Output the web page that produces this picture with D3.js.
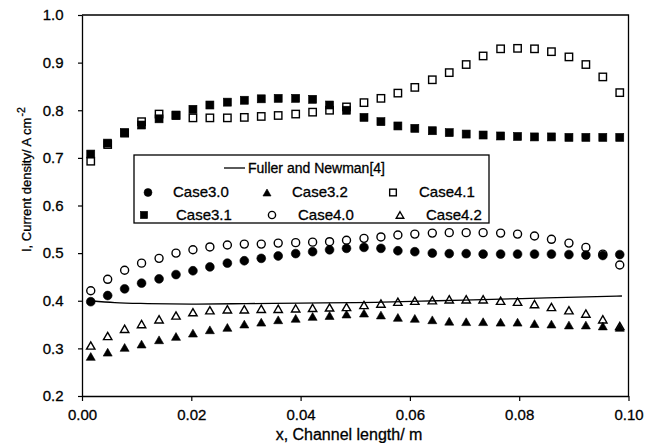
<!DOCTYPE html>
<html><head><meta charset="utf-8">
<script src="https://cdn.jsdelivr.net/npm/d3@7"></script>
<style>
html,body{margin:0;padding:0;background:#fff;}
svg{display:block;font-family:"Liberation Sans",Arial,Helvetica,sans-serif;}
svg text{stroke:#000;stroke-width:0.3px;}
</style>
</head><body>
<svg id="chart" width="645" height="443"></svg>
<script>
// ---- data ----
const xValues = [0.0016,0.0047,0.0078,0.0109,0.0141,0.0172,0.0203,0.0234,0.0266,0.0297,0.0328,0.0359,0.0391,0.0422,0.0453,0.0484,
                 0.0516,0.0547,0.0578,0.0609,0.0641,0.0672,0.0703,0.0734,0.0766,0.0797,0.0828,0.0859,0.0891,0.0922,0.0953,0.0984];
const case30 = [0.398,0.411,0.425,0.437,0.446,0.455,0.463,0.471,0.479,0.484,0.489,0.494,0.499,0.503,0.507,0.510,
                0.512,0.510,0.505,0.503,0.500,0.499,0.499,0.498,0.498,0.498,0.498,0.498,0.497,0.496,0.495,0.497];
const case31 = [0.708,0.731,0.753,0.769,0.782,0.790,0.802,0.811,0.817,0.821,0.824,0.825,0.825,0.823,0.811,0.800,
                0.785,0.776,0.767,0.762,0.757,0.753,0.750,0.748,0.746,0.745,0.744,0.744,0.743,0.743,0.743,0.743];
const case32 = [0.283,0.292,0.302,0.309,0.318,0.325,0.332,0.339,0.344,0.351,0.355,0.360,0.363,0.367,0.369,0.372,
                0.374,0.370,0.365,0.363,0.360,0.357,0.356,0.356,0.355,0.355,0.352,0.351,0.349,0.349,0.347,0.344];
const case40 = [0.421,0.445,0.464,0.479,0.489,0.500,0.507,0.513,0.517,0.519,0.519,0.521,0.522,0.523,0.524,0.527,
                0.531,0.534,0.538,0.540,0.542,0.543,0.543,0.543,0.542,0.540,0.536,0.529,0.521,0.512,0.498,0.475];
const case41 = [0.693,0.728,0.752,0.776,0.792,0.789,0.784,0.784,0.784,0.785,0.787,0.789,0.792,0.796,0.800,0.807,
                0.816,0.825,0.836,0.848,0.864,0.879,0.896,0.914,0.929,0.930,0.929,0.923,0.912,0.896,0.870,0.837];
const case42 = [0.306,0.326,0.341,0.351,0.361,0.369,0.376,0.380,0.382,0.382,0.383,0.383,0.384,0.385,0.386,0.387,
                0.391,0.394,0.398,0.400,0.401,0.403,0.403,0.403,0.400,0.398,0.393,0.387,0.380,0.373,0.361,0.347];
const fullerX = [0.0016,0.006,0.012,0.020,0.030,0.040,0.050,0.055,0.065,0.075,0.085,0.0988];
const fullerY = [0.400,0.396,0.394,0.393,0.394,0.395,0.396,0.397,0.400,0.403,0.406,0.410];
const xTicks = [0.00,0.02,0.04,0.06,0.08,0.10];
const yTicks = [0.2,0.3,0.4,0.5,0.6,0.7,0.8,0.9,1.0];
const xTitle = "x, Channel length/ m";
const yTitle = "I, Current density/ A cm";
const yTitleSup = "-2";
const lineLabel = "Fuller and Newman[4]";

// ---- scales ----
const svg = d3.select("#chart");
const L = 82, R = 628.5, T = 15, B = 396;
const x = d3.scaleLinear().domain([0, 0.1]).range([L, R]);
const y = d3.scaleLinear().domain([0.2, 1.0]).range([B, T]);

// ---- axes ----
const xAxis = svg.append("g").attr("transform", `translate(0,${B})`)
  .call(d3.axisBottom(x).tickValues(xTicks).tickFormat(d3.format(".2f"))
        .tickSizeInner(5).tickSizeOuter(0).tickPadding(8));
const yAxis = svg.append("g").attr("transform", `translate(${L},0)`)
  .call(d3.axisLeft(y).tickValues(yTicks).tickFormat(d3.format(".1f"))
        .tickSizeInner(4).tickSizeOuter(0).tickPadding(14.5));
[xAxis, yAxis].forEach(g => {
  g.select(".domain").attr("stroke", "#000").attr("stroke-width", 1.3);
  g.selectAll(".tick line").attr("stroke", "#000").attr("stroke-width", 1.2);
  g.selectAll(".tick text").attr("fill", "#000").style("font-size", "15px")
    .style("font-family", '"Liberation Sans",Arial,sans-serif');
});
// frame top & right
svg.append("path").attr("d", `M${L},${T}H${R}V${B}`).attr("fill", "none")
  .attr("stroke", "#000").attr("stroke-width", 1.3);

// axis titles
svg.append("text").attr("x", 349).attr("y", 440).attr("text-anchor", "middle")
  .style("font-size", "16px").attr("fill", "#000").text(xTitle);
const yt = svg.append("text").attr("transform", "translate(31,252) rotate(-90)")
  .attr("text-anchor", "start").style("font-size", "13px").attr("fill", "#000");
yt.append("tspan").text(yTitle);
yt.append("tspan").attr("dy", "-0.55em").attr("dx", "1").style("font-size", "10.5px").text(yTitleSup);

// ---- marker drawing ----
function triPath(cx, cy, s) {
  const h = s * 0.866;
  return `M${cx},${cy - h / 2}L${cx + s / 2},${cy + h / 2}L${cx - s / 2},${cy + h / 2}Z`;
}
function drawMarker(g, shape, filled, cx, cy, k) {
  const fill = filled ? "#000" : "none";
  const sw = filled ? 0.6 : 1.4;
  if (shape === "circle") {
    g.append("circle").attr("cx", cx).attr("cy", cy).attr("r", (filled ? 4.4 : 4.0) * k)
      .attr("fill", fill).attr("stroke", "#000").attr("stroke-width", sw);
  } else if (shape === "square") {
    const s = (filled ? 8 : 7.4) * k;
    g.append("rect").attr("x", cx - s / 2).attr("y", cy - s / 2).attr("width", s).attr("height", s)
      .attr("fill", fill).attr("stroke", "#000").attr("stroke-width", sw);
  } else {
    g.append("path").attr("d", triPath(cx, cy, (filled ? 9 : 8.4) * k))
      .attr("fill", fill).attr("stroke", "#000").attr("stroke-width", sw).attr("stroke-linejoin", "miter");
  }
}

const series = [
  { name: "Case3.0", vals: case30, shape: "circle",   filled: true  },
  { name: "Case3.1", vals: case31, shape: "square",   filled: true  },
  { name: "Case3.2", vals: case32, shape: "triangle", filled: true  },
  { name: "Case4.0", vals: case40, shape: "circle",   filled: false },
  { name: "Case4.1", vals: case41, shape: "square",   filled: false },
  { name: "Case4.2", vals: case42, shape: "triangle", filled: false }
];

// Fuller & Newman line
const lineGen = d3.line().x(d => x(d[0])).y(d => y(d[1])).curve(d3.curveMonotoneX);
svg.append("path").datum(fullerX.map((v, i) => [v, fullerY[i]]))
  .attr("d", lineGen).attr("fill", "none").attr("stroke", "#000").attr("stroke-width", 1.3);

// open first, filled on top
const plotG = svg.append("g");
series.filter(s => !s.filled).concat(series.filter(s => s.filled)).forEach(s => {
  const g = plotG.append("g").attr("class", s.name);
  xValues.forEach((xv, i) => drawMarker(g, s.shape, s.filled, x(xv), y(s.vals[i]), 1));
});

// ---- legend ----
const lg = svg.append("g");
lg.append("rect").attr("x", 134).attr("y", 155).attr("width", 355).attr("height", 68)
  .attr("fill", "#fff").attr("stroke", "#000").attr("stroke-width", 1.3);
lg.append("line").attr("x1", 224).attr("x2", 245).attr("y1", 168).attr("y2", 168)
  .attr("stroke", "#000").attr("stroke-width", 1.3);
lg.append("text").attr("x", 248).attr("y", 172.5).style("font-size", "14px").attr("fill", "#000").text(lineLabel);
const legItems = [
  { s: series[0], mx: 148, tx: 173, row: 0 },
  { s: series[2], mx: 267, tx: 292, row: 0 },
  { s: series[4], mx: 393, tx: 419, row: 0 },
  { s: series[1], mx: 144, tx: 176, row: 1 },
  { s: series[3], mx: 272, tx: 298, row: 1 },
  { s: series[5], mx: 400, tx: 426, row: 1 }
];
const rowY = [192.5, 215];
legItems.forEach(it => {
  drawMarker(lg, it.s.shape, it.s.filled, it.mx, rowY[it.row], 0.9);
  lg.append("text").attr("x", it.tx).attr("y", rowY[it.row] + 4.5).style("font-size", "15px")
    .attr("fill", "#000").text(it.s.name);
});
</script>
</body></html>
